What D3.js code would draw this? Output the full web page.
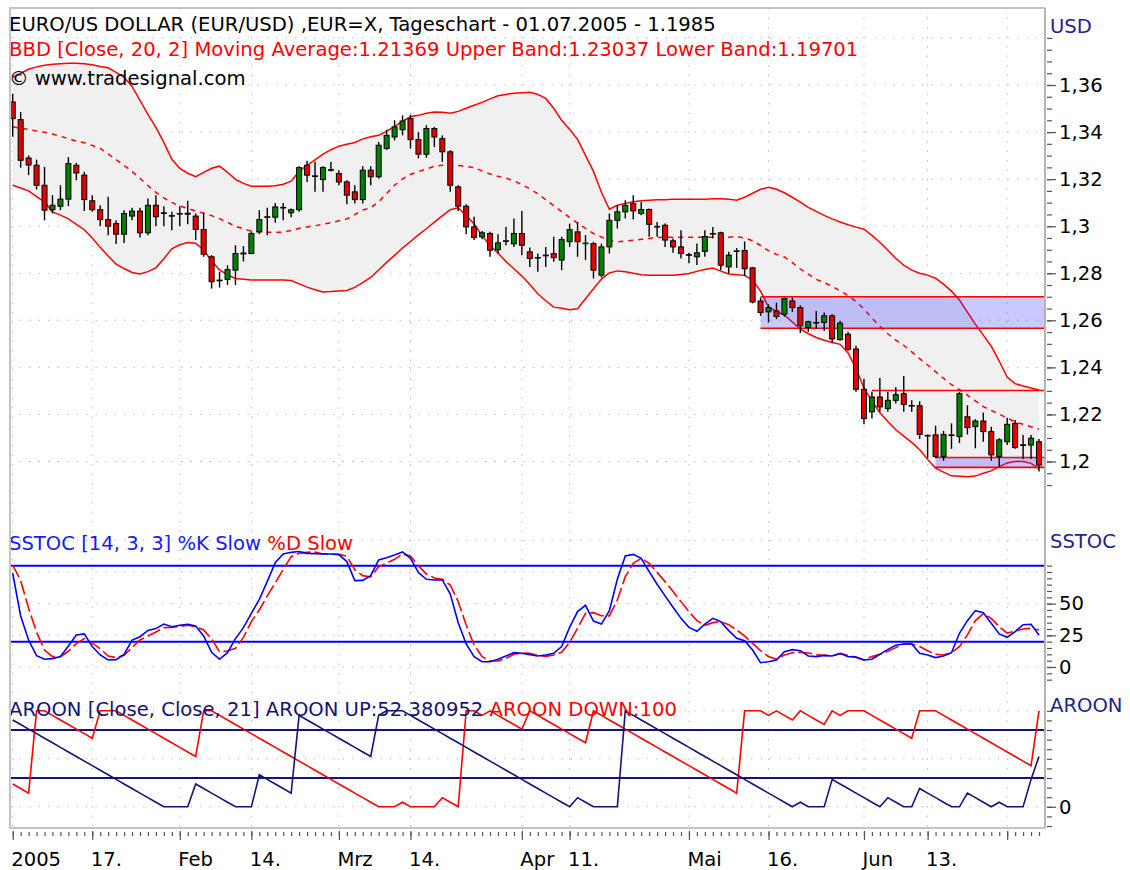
<!DOCTYPE html>
<html lang="de">
  <head>
    <meta charset="utf-8">
    <title>EURO/US DOLLAR Tageschart</title>
    <script src="https://d3js.org/d3.v7.min.js"></script>
    <style>
      body {
        margin: 0;
        background: #fff;
      }

      text {
        font-family: "DejaVu Sans", Verdana, sans-serif;
        font-size: 19.6px;
      }
    </style>
  </head>
  <body>
    <script>
      // one value per trading day, 03.01.2005 - 01.07.2005
      const opens = [
        1.3528, 1.3453, 1.3290, 1.3259, 1.3174, 1.3070, 1.3085, 1.3115, 1.3259, 1.3217,
        1.3108, 1.3070, 1.3028, 1.3011, 1.2966, 1.3043, 1.3064, 1.2972, 1.3089, 1.3057,
        1.3045, 1.3052, 1.3055, 1.3043, 1.2986, 1.2870, 1.2768, 1.2774, 1.2813, 1.2882,
        1.2884, 1.2976, 1.3038, 1.3038, 1.3080, 1.3057, 1.3070, 1.3259, 1.3214, 1.3198,
        1.3240, 1.3224, 1.3188, 1.3146, 1.3113, 1.3238, 1.3210, 1.3330, 1.3379, 1.3410,
        1.3457, 1.3368, 1.3306, 1.3415, 1.3372, 1.3316, 1.3167, 1.3085, 1.2997, 1.2955,
        1.2969, 1.2900, 1.2936, 1.2925, 1.2969, 1.2891, 1.2866, 1.2874, 1.2884, 1.2856,
        1.2934, 1.2976, 1.2928, 1.2926, 1.2792, 1.2912, 1.3025, 1.3061, 1.3096, 1.3054,
        1.3071, 1.2999, 1.3004, 1.2938, 1.2912, 1.2879, 1.2870, 1.2893, 1.2968, 1.2972,
        1.2827, 1.2895, 1.2897, 1.2823, 1.2682, 1.2636, 1.2640, 1.2626, 1.2682, 1.2654,
        1.2569, 1.2590, 1.2591, 1.2619, 1.2518, 1.2541, 1.2478, 1.2307, 1.2211, 1.2274,
        1.2225, 1.2260, 1.2288, 1.2238, 1.2237, 1.2111, 1.2113, 1.2021, 1.2112, 1.2106,
        1.2190, 1.2148, 1.2172, 1.2127, 1.2021, 1.2084, 1.2162, 1.2071, 1.2070, 1.2084
      ];
      const highs = [
        1.3563, 1.3485, 1.3301, 1.3283, 1.3252, 1.3132, 1.3174, 1.3294, 1.3269, 1.3231,
        1.3132, 1.3089, 1.3125, 1.3025, 1.3068, 1.3078, 1.3078, 1.3118, 1.3132, 1.3085,
        1.3061, 1.3085, 1.3108, 1.3054, 1.3057, 1.2877, 1.2806, 1.2834, 1.2919, 1.2915,
        1.2978, 1.3068, 1.3078, 1.3099, 1.3099, 1.3075, 1.3255, 1.3278, 1.3273, 1.3255,
        1.3273, 1.3238, 1.3195, 1.3174, 1.3255, 1.3255, 1.3358, 1.3410, 1.3450, 1.3471,
        1.3474, 1.3400, 1.3429, 1.3422, 1.3386, 1.3323, 1.3174, 1.3093, 1.3040, 1.2980,
        1.2976, 1.2966, 1.2997, 1.3033, 1.3065, 1.2909, 1.2884, 1.2912, 1.2955, 1.2955,
        1.3011, 1.3018, 1.2962, 1.2934, 1.2926, 1.3054, 1.3089, 1.3110, 1.3132, 1.3103,
        1.3075, 1.3018, 1.3011, 1.2948, 1.2983, 1.2887, 1.2926, 1.2983, 1.2997, 1.2976,
        1.2891, 1.2907, 1.2935, 1.2827, 1.2696, 1.2668, 1.2675, 1.2696, 1.2696, 1.2664,
        1.2598, 1.2640, 1.2633, 1.2626, 1.2598, 1.2551, 1.2492, 1.2352, 1.2296, 1.2355,
        1.2296, 1.2316, 1.2363, 1.2260, 1.2256, 1.2115, 1.2152, 1.2130, 1.2162, 1.2296,
        1.2239, 1.2180, 1.2208, 1.2148, 1.2099, 1.2186, 1.2176, 1.2113, 1.2113, 1.2096
      ];
      const lows = [
        1.3380, 1.3249, 1.3217, 1.3156, 1.3025, 1.3054, 1.3068, 1.3085, 1.3195, 1.3065,
        1.3061, 1.3000, 1.2962, 1.2924, 1.2929, 1.3025, 1.2952, 1.2962, 1.3000, 1.3000,
        1.2983, 1.3000, 1.3008, 1.2941, 1.2870, 1.2735, 1.2739, 1.2750, 1.2750, 1.2850,
        1.2881, 1.2966, 1.2962, 1.3015, 1.3025, 1.3038, 1.3061, 1.3188, 1.3146, 1.3146,
        1.3232, 1.3174, 1.3093, 1.3096, 1.3096, 1.3174, 1.3202, 1.3323, 1.3365, 1.3386,
        1.3330, 1.3288, 1.3291, 1.3337, 1.3273, 1.3146, 1.3065, 1.2966, 1.2941, 1.2944,
        1.2870, 1.2884, 1.2919, 1.2912, 1.2877, 1.2827, 1.2806, 1.2827, 1.2849, 1.2813,
        1.2912, 1.2870, 1.2856, 1.2778, 1.2782, 1.2884, 1.2990, 1.3033, 1.3028, 1.3047,
        1.2955, 1.2955, 1.2912, 1.2887, 1.2863, 1.2842, 1.2835, 1.2870, 1.2948, 1.2813,
        1.2799, 1.2823, 1.2788, 1.2672, 1.2619, 1.2591, 1.2605, 1.2616, 1.2636, 1.2546,
        1.2551, 1.2563, 1.2555, 1.2506, 1.2513, 1.2471, 1.2296, 1.2158, 1.2183, 1.2211,
        1.2211, 1.2246, 1.2211, 1.2211, 1.2096, 1.2014, 1.2014, 1.2003, 1.2054, 1.2078,
        1.2115, 1.2056, 1.2084, 1.2003, 1.1979, 1.2070, 1.2054, 1.2011, 1.2011, 1.1958
      ];
      const closes = [
        1.3457, 1.3280, 1.3260, 1.3174, 1.3068, 1.3089, 1.3115, 1.3266, 1.3226, 1.3113,
        1.3070, 1.3028, 1.3000, 1.2966, 1.3054, 1.3064, 1.2972, 1.3089, 1.3040, 1.3054,
        1.3043, 1.3054, 1.3051, 1.2986, 1.2881, 1.2764, 1.2771, 1.2816, 1.2884, 1.2886,
        1.2969, 1.3028, 1.3040, 1.3082, 1.3079, 1.3070, 1.3249, 1.3217, 1.3212, 1.3249,
        1.3238, 1.3188, 1.3132, 1.3113, 1.3238, 1.3210, 1.3344, 1.3386, 1.3422, 1.3447,
        1.3368, 1.3306, 1.3415, 1.3379, 1.3316, 1.3174, 1.3085, 1.2997, 1.2952, 1.2972,
        1.2898, 1.2929, 1.2938, 1.2969, 1.2919, 1.2863, 1.2867, 1.2877, 1.2866, 1.2943,
        1.2986, 1.2934, 1.2926, 1.2813, 1.2912, 1.3025, 1.3061, 1.3089, 1.3065, 1.3071,
        1.3008, 1.2997, 1.2941, 1.2912, 1.2884, 1.2877, 1.2887, 1.2956, 1.2969, 1.2834,
        1.2877, 1.2893, 1.2819, 1.2678, 1.2633, 1.2654, 1.2616, 1.2692, 1.2654, 1.2577,
        1.2594, 1.2591, 1.2619, 1.2521, 1.2588, 1.2476, 1.2307, 1.2183, 1.2274, 1.2232,
        1.2260, 1.2284, 1.2242, 1.2237, 1.2115, 1.2110, 1.2021, 1.2115, 1.2113, 1.2288,
        1.2144, 1.2172, 1.2127, 1.2028, 1.2092, 1.2158, 1.2059, 1.2070, 1.2099, 1.1985
      ];

      // Bollinger bands [Close, 20, 2]
      const bbUpper = [
        1.3633, 1.3650, 1.3667, 1.3677, 1.3684, 1.3688, 1.3690, 1.3692, 1.3692, 1.3690,
        1.3686, 1.3679, 1.3673, 1.3654, 1.3633, 1.3594, 1.3535, 1.3475, 1.3420, 1.3356,
        1.3284, 1.3246, 1.3225, 1.3210, 1.3229, 1.3246, 1.3255, 1.3229, 1.3199, 1.3182,
        1.3170, 1.3170, 1.3170, 1.3172, 1.3178, 1.3191, 1.3233, 1.3259, 1.3282, 1.3306,
        1.3325, 1.3340, 1.3348, 1.3356, 1.3371, 1.3380, 1.3386, 1.3404, 1.3423, 1.3446,
        1.3465, 1.3471, 1.3480, 1.3485, 1.3484, 1.3480, 1.3488, 1.3501, 1.3514, 1.3526,
        1.3541, 1.3554, 1.3560, 1.3565, 1.3567, 1.3569, 1.3560, 1.3543, 1.3501, 1.3450,
        1.3412, 1.3369, 1.3301, 1.3233, 1.3144, 1.3072, 1.3089, 1.3097, 1.3104, 1.3108,
        1.3110, 1.3112, 1.3112, 1.3115, 1.3115, 1.3115, 1.3115, 1.3115, 1.3117, 1.3117,
        1.3115, 1.3110, 1.3123, 1.3140, 1.3157, 1.3165, 1.3157, 1.3142, 1.3123, 1.3102,
        1.3080, 1.3063, 1.3046, 1.3031, 1.3018, 1.3006, 1.2996, 1.2987, 1.2961, 1.2932,
        1.2898, 1.2864, 1.2834, 1.2813, 1.2800, 1.2792, 1.2779, 1.2754, 1.2724, 1.2686,
        1.2635, 1.2584, 1.2537, 1.2490, 1.2427, 1.2359, 1.2331, 1.2321, 1.2312, 1.2304
      ];
      const bbMiddle = [
        1.3423, 1.3416, 1.3411, 1.3405, 1.3399, 1.3392, 1.3382, 1.3372, 1.3362, 1.3355,
        1.3343, 1.3331, 1.3307, 1.3283, 1.3258, 1.3233, 1.3203, 1.3173, 1.3144, 1.3120,
        1.3101, 1.3086, 1.3075, 1.3065, 1.3055, 1.3045, 1.3032, 1.3016, 1.3000, 1.2989,
        1.2979, 1.2976, 1.2974, 1.2974, 1.2974, 1.2982, 1.2991, 1.2997, 1.3002, 1.3008,
        1.3015, 1.3023, 1.3031, 1.3049, 1.3069, 1.3078, 1.3104, 1.3139, 1.3174, 1.3201,
        1.3220, 1.3232, 1.3243, 1.3255, 1.3259, 1.3259, 1.3258, 1.3254, 1.3249, 1.3235,
        1.3222, 1.3212, 1.3204, 1.3193, 1.3176, 1.3159, 1.3138, 1.3112, 1.3087, 1.3062,
        1.3036, 1.3013, 1.2991, 1.2969, 1.2954, 1.2939, 1.2934, 1.2937, 1.2940, 1.2944,
        1.2948, 1.2952, 1.2953, 1.2953, 1.2953, 1.2953, 1.2953, 1.2953, 1.2953, 1.2953,
        1.2953, 1.2956, 1.2950, 1.2938, 1.2918, 1.2896, 1.2880, 1.2869, 1.2845, 1.2818,
        1.2796, 1.2774, 1.2760, 1.2745, 1.2725, 1.2705, 1.2680, 1.2648, 1.2609, 1.2575,
        1.2543, 1.2516, 1.2494, 1.2466, 1.2437, 1.2410, 1.2382, 1.2353, 1.2327, 1.2305,
        1.2282, 1.2258, 1.2233, 1.2217, 1.2201, 1.2185, 1.2168, 1.2158, 1.2148, 1.2137
      ];
      const bbLower = [
        1.3174, 1.3162, 1.3150, 1.3126, 1.3103, 1.3061, 1.3047, 1.3031, 1.3008, 1.2985,
        1.2950, 1.2910, 1.2873, 1.2839, 1.2820, 1.2803, 1.2797, 1.2807, 1.2823, 1.2862,
        1.2904, 1.2921, 1.2931, 1.2928, 1.2899, 1.2852, 1.2814, 1.2793, 1.2778, 1.2775,
        1.2771, 1.2771, 1.2771, 1.2771, 1.2771, 1.2769, 1.2755, 1.2741, 1.2730, 1.2720,
        1.2722, 1.2725, 1.2727, 1.2740, 1.2760, 1.2782, 1.2814, 1.2846, 1.2876, 1.2907,
        1.2935, 1.2963, 1.2989, 1.3017, 1.3044, 1.3070, 1.3078, 1.3044, 1.3009, 1.2960,
        1.2917, 1.2886, 1.2850, 1.2819, 1.2788, 1.2752, 1.2713, 1.2683, 1.2656, 1.2651,
        1.2645, 1.2649, 1.2692, 1.2734, 1.2775, 1.2801, 1.2810, 1.2806, 1.2800, 1.2794,
        1.2792, 1.2792, 1.2792, 1.2792, 1.2795, 1.2799, 1.2808, 1.2816, 1.2822, 1.2809,
        1.2797, 1.2794, 1.2791, 1.2771, 1.2724, 1.2656, 1.2638, 1.2622, 1.2593, 1.2562,
        1.2543, 1.2527, 1.2515, 1.2506, 1.2498, 1.2461, 1.2395, 1.2312, 1.2257, 1.2207,
        1.2170, 1.2135, 1.2108, 1.2081, 1.2050, 1.2009, 1.1972, 1.1955, 1.1939, 1.1937,
        1.1935, 1.1938, 1.1950, 1.1960, 1.1978, 1.1994, 1.2000, 1.2000, 1.1992, 1.1970
      ];

      // SSTOC [14, 3, 3]
      const stochK = [
        74, 40.3, 21.3, 8.9, 6.1, 6.6, 8.2, 16.6, 25.3, 26.1,
        16.1, 9.5, 5.5, 5.8, 10, 21.3, 23.9, 28.9, 30.3, 33.9,
        31.8, 32.9, 33.7, 32.4, 24.5, 11.6, 6.1, 11.3, 22.4, 31.1,
        42.4, 53.4, 67.6, 82.4, 89.2, 90.5, 91.1, 89.7, 89.5, 89.2,
        89.2, 88.7, 83.2, 68.2, 68.4, 72.1, 84.5, 86.3, 88.4, 90.8,
        85.8, 74.5, 69.2, 68.7, 68.7, 57.6, 35, 18.2, 8.2, 4.2,
        4.2, 6.1, 8.7, 11.3, 10.8, 9.7, 8.7, 9.5, 10.8, 16.1,
        31.3, 43.7, 48.7, 36.3, 33.9, 44.5, 69.2, 87.6, 88.9, 85.8,
        75.3, 65.3, 56.1, 47.1, 38.4, 31.3, 28.2, 33.9, 38.4, 35.8,
        28.7, 22.6, 20.8, 13.4, 3.4, 4.2, 5.5, 12.1, 13.7, 12.9,
        8.7, 8.2, 9.2, 8.7, 10.8, 8.2, 7.9, 5.5, 6.1, 10,
        13.9, 17.1, 18.2, 18.2, 10.8, 9.5, 7.4, 8.7, 11.3, 26.6,
        36.6, 44.5, 42.9, 34.5, 26.1, 23.4, 27.9, 33.4, 33.7, 25.3
      ];
      const stochD = [
        80.5, 68.2, 46.3, 27.4, 13.4, 8.2, 8.2, 12.4, 18.4, 22.4,
        18.9, 14.5, 8.7, 7.4, 9.2, 15.3, 21.3, 24.5, 27.6, 31.1,
        31.3, 32.1, 32.9, 31.8, 29.2, 22.1, 12.1, 12.6, 14.7, 23.4,
        35.8, 45, 56.1, 66.3, 77.1, 87.1, 89.7, 90.5, 90.8, 89.2,
        89.2, 88.9, 87.4, 76.8, 72.1, 71.1, 79.2, 82.1, 85, 89.2,
        87.6, 80, 73.4, 70.3, 69.2, 64.7, 51.6, 33.2, 17.4, 8.2,
        4.7, 4.7, 6.8, 10, 11.1, 10.8, 9.2, 8.4, 9.5, 11.6,
        19.5, 30.5, 42.4, 42.9, 40.5, 40.3, 52.9, 71.3, 81.8, 85.8,
        81.8, 74.7, 67.4, 59.5, 51.6, 43.7, 36.6, 32.9, 35, 35.8,
        33.4, 29.2, 24.5, 18.7, 12.9, 8.2, 6.1, 9.5, 11.3, 11.6,
        11.1, 9.7, 9.2, 8.7, 10.5, 9.2, 7.6, 5.5, 8.2, 10,
        12.4, 15.3, 18.2, 18.2, 16.1, 12.9, 10, 9.5, 11.3, 16.1,
        25.3, 36.6, 42.1, 38.4, 31.8, 26.8, 28.2, 30, 30.5, 29.2
      ];
      const stochLevels = [80, 20];

      // AROON [Close, Close, 21]
      const aroonUp = [
        90.48, 85.71, 80.95, 76.19, 71.43, 66.67, 61.90, 57.14, 52.38, 47.62,
        42.86, 38.10, 33.33, 28.57, 23.81, 19.05, 14.29, 9.52, 4.76, 0,
        0, 0, 0, 23.81, 19.05, 14.29, 9.52, 4.76, 0, 0,
        0, 33.33, 28.57, 23.81, 19.05, 14.29, 95.24, 90.48, 85.71, 80.95,
        76.19, 71.43, 66.67, 61.90, 57.14, 52.38, 95.24, 100, 100, 100,
        95.24, 90.48, 85.71, 80.95, 76.19, 71.43, 66.67, 61.90, 57.14, 52.38,
        47.62, 42.86, 38.10, 33.33, 28.57, 23.81, 19.05, 14.29, 9.52, 4.76,
        0, 9.52, 4.76, 0, 0, 0, 0, 100, 95.24, 90.48,
        85.71, 80.95, 76.19, 71.43, 66.67, 61.90, 57.14, 52.38, 47.62, 42.86,
        38.10, 33.33, 28.57, 23.81, 19.05, 14.29, 9.52, 4.76, 0, 4.76,
        0, 0, 0, 28.57, 23.81, 19.05, 14.29, 9.52, 4.76, 0,
        9.52, 4.76, 0, 0, 19.05, 14.29, 9.52, 4.76, 0, 0,
        14.29, 9.52, 4.76, 0, 4.76, 0, 0, 0, 28.57, 52.38
      ];
      const aroonDown = [
        23.81, 19.05, 14.29, 100, 100, 95.24, 90.48, 85.71, 80.95, 76.19,
        71.43, 100, 100, 100, 95.24, 90.48, 85.71, 80.95, 76.19, 71.43,
        66.67, 61.90, 57.14, 52.38, 100, 100, 95.24, 90.48, 85.71, 80.95,
        76.19, 71.43, 66.67, 61.90, 57.14, 52.38, 47.62, 42.86, 38.10, 33.33,
        28.57, 23.81, 19.05, 14.29, 9.52, 4.76, 0, 0, 0, 4.76,
        0, 0, 0, 0, 9.52, 4.76, 0, 100, 100, 95.24,
        100, 95.24, 90.48, 85.71, 80.95, 100, 95.24, 90.48, 85.71, 80.95,
        76.19, 71.43, 66.67, 100, 95.24, 90.48, 85.71, 80.95, 76.19, 71.43,
        66.67, 61.90, 57.14, 52.38, 47.62, 42.86, 38.10, 33.33, 28.57, 23.81,
        19.05, 14.29, 100, 100, 100, 95.24, 100, 95.24, 90.48, 100,
        95.24, 90.48, 85.71, 100, 95.24, 100, 100, 100, 95.24, 90.48,
        85.71, 80.95, 76.19, 71.43, 100, 100, 100, 95.24, 90.48, 85.71,
        80.95, 76.19, 71.43, 66.67, 61.90, 57.14, 52.38, 47.62, 42.86, 100
      ];
      const aroonLevels = [80, 30];

      // drawn zones and support / resistance line
      const zoneStart = ['2005-05-13', '2005-06-14'];
      const zoneTop = [1.2700, 1.2017];
      const zoneBottom = [1.2566, 1.1975];
      const lineStart = ['2005-06-02'];
      const lineLevel = [1.2302];

      const priceTicks = [1.2, 1.22, 1.24, 1.26, 1.28, 1.3, 1.32, 1.34, 1.36];
      const stochTicks = [0, 25, 50];
      const aroonTicks = [0];
      const dateTicks = ['2005-01-03', '2005-01-17', '2005-02-01', '2005-02-14', '2005-03-01', '2005-03-14',
                         '2005-04-01', '2005-04-11', '2005-05-02', '2005-05-16', '2005-06-01', '2005-06-13', '2005-06-27'];
      const dateTickLabels = ['2005', '17.', 'Feb', '14.', 'Mrz', '14.', 'Apr', '11.', 'Mai', '16.', 'Jun', '13.', ''];

      const title = 'EURO/US DOLLAR (EUR/USD) ,EUR=X, Tageschart - 01.07.2005 - 1.1985';
      const bbTitle = 'BBD [Close, 20, 2] Moving Average:1.21369 Upper Band:1.23037 Lower Band:1.19701';
      const source = '\u00a9 www.tradesignal.com';

      const w = 1130;
      const h = 870;
      const plotLeft = 10;
      const plotRight = 1045;
      const plotTop = 8;
      const plotBottom = 828;

      const fmt = d3.timeFormat('%Y-%m-%d');
      const days = d3.timeDay.range(new Date(2005, 0, 3), new Date(2005, 6, 2))
                     .filter(d => d.getDay() !== 0 && d.getDay() !== 6)
                     .map(fmt);

      const candles = days.map((d, i) => ({date: d, o: opens[i], h: highs[i], l: lows[i], c: closes[i]}));

      const xScale = d3.scalePoint().domain(days).range([12.7, 1039]);
      const yPrice = d3.scaleLinear().domain([1.2, 1.36]).range([461.5, 85]);
      const yStoch = d3.scaleLinear().domain([0, 100]).range([667, 540.3]);
      const yAroon = d3.scaleLinear().domain([0, 100]).range([806.8, 710.8]);

      const de = d3.formatLocale({decimal: ',', thousands: '.', grouping: [3], currency: ['', ' €']});

      const svg = d3.select('body')
                    .append('svg')
                    .attr('width', w)
                    .attr('height', h);

      svg.append('defs')
         .append('clipPath')
         .attr('id', 'plot')
         .append('rect')
          .attr('x', plotLeft)
          .attr('y', plotTop)
          .attr('width', plotRight - plotLeft)
          .attr('height', plotBottom - plotTop);

      const grid = svg.append('g')
                      .attr('stroke', '#bdbdbd')
                      .attr('stroke-width', 1)
                      .attr('stroke-dasharray', '1.5,8');

      grid.selectAll('.vgrid')
          .data(dateTicks)
          .enter()
          .append('line')
           .attr('x1', d => xScale(d))
           .attr('x2', d => xScale(d))
           .attr('y1', plotTop)
           .attr('y2', plotBottom);

      const hGrid = [1.2, 1.22, 1.24, 1.26, 1.28, 1.3, 1.32, 1.34, 1.36, 1.38].map(v => yPrice(v))
                      .concat([0, 25, 50, 75, 100].map(v => yStoch(v)))
                      .concat([0, 50, 100].map(v => yAroon(v)));

      grid.selectAll('.hgrid')
          .data(hGrid)
          .enter()
          .append('line')
           .attr('x1', plotLeft)
           .attr('x2', plotRight)
           .attr('y1', d => d)
           .attr('y2', d => d);

      const plot = svg.append('g').attr('clip-path', 'url(#plot)');

      // band fill
      plot.append('path')
          .datum(days)
          .attr('fill', '#f0f0f0')
          .attr('d', d3.area()
                       .x(d => xScale(d))
                       .y0((d, i) => yPrice(bbLower[i]))
                       .y1((d, i) => yPrice(bbUpper[i])));

      // titles
      svg.append('text').attr('x', 9).attr('y', 31).attr('fill', '#000').text(title);
      svg.append('text').attr('x', 9).attr('y', 56).attr('fill', '#ff0000').text(bbTitle);
      svg.append('text').attr('x', 9).attr('y', 85).attr('fill', '#000').text(source);

      const stTitle = svg.append('text').attr('x', 9).attr('y', 550);
      stTitle.append('tspan').attr('fill', '#1818ff').text('SSTOC [14, 3, 3] %K Slow ');
      stTitle.append('tspan').attr('fill', '#ff0000').text('%D Slow');

      const arTitle = svg.append('text').attr('x', 9).attr('y', 716);
      arTitle.append('tspan').attr('fill', '#141478').text('AROON [Close, Close, 21] AROON UP:52.380952 ');
      arTitle.append('tspan').attr('fill', '#ff0000').text('AROON DOWN:100');

      // bands
      const bandLine = arr => d3.line()
                                .x(d => xScale(d))
                                .y((d, i) => yPrice(arr[i]));

      plot.append('path').datum(days)
          .attr('fill', 'none').attr('stroke', '#ff0000').attr('stroke-width', 1.5)
          .attr('d', bandLine(bbUpper));
      plot.append('path').datum(days)
          .attr('fill', 'none').attr('stroke', '#ff0000').attr('stroke-width', 1.5)
          .attr('d', bandLine(bbLower));
      plot.append('path').datum(days)
          .attr('fill', 'none').attr('stroke', '#ff0000').attr('stroke-width', 1.5)
          .attr('stroke-dasharray', '5,5')
          .attr('d', bandLine(bbMiddle));

      // zones
      const zones = zoneStart.map((d, i) => ({start: d, top: zoneTop[i], bottom: zoneBottom[i]}));

      plot.selectAll('.zone')
          .data(zones)
          .enter()
          .append('rect')
           .attr('x', d => xScale(d.start))
           .attr('y', d => yPrice(d.top))
           .attr('width', d => plotRight - xScale(d.start))
           .attr('height', d => yPrice(d.bottom) - yPrice(d.top))
           .attr('fill', 'rgba(40, 40, 255, 0.25)');

      const levels = zones.flatMap(z => [{start: z.start, v: z.top}, {start: z.start, v: z.bottom}])
                          .concat(lineStart.map((d, i) => ({start: d, v: lineLevel[i]})));

      plot.selectAll('.level')
          .data(levels)
          .enter()
          .append('line')
           .attr('x1', d => xScale(d.start))
           .attr('x2', plotRight)
           .attr('y1', d => yPrice(d.v))
           .attr('y2', d => yPrice(d.v))
           .attr('stroke', '#ff0000')
           .attr('stroke-width', 1.6);

      // candles
      const candle = plot.selectAll('.candle')
                         .data(candles)
                         .enter()
                         .append('g');

      candle.append('line')
             .attr('x1', d => xScale(d.date))
             .attr('x2', d => xScale(d.date))
             .attr('y1', d => yPrice(d.h))
             .attr('y2', d => yPrice(d.l))
             .attr('stroke', '#000')
             .attr('stroke-width', 1.4);

      candle.append('rect')
             .attr('x', d => xScale(d.date) - 2.5)
             .attr('y', d => yPrice(Math.max(d.o, d.c)))
             .attr('width', 5)
             .attr('height', d => Math.max(0.6, Math.abs(yPrice(d.o) - yPrice(d.c))))
             .attr('fill', d => d.c >= d.o ? '#008000' : '#e80000')
             .attr('stroke', '#000')
             .attr('stroke-width', 1);

      // SSTOC
      plot.selectAll('.stlevel')
          .data(stochLevels)
          .enter()
          .append('line')
           .attr('x1', plotLeft).attr('x2', plotRight)
           .attr('y1', d => yStoch(d)).attr('y2', d => yStoch(d))
           .attr('stroke', '#0000ff').attr('stroke-width', 2);

      plot.append('path').datum(days)
          .attr('fill', 'none').attr('stroke', '#ff0000').attr('stroke-width', 1.6)
          .attr('stroke-dasharray', '14,4')
          .attr('d', d3.line().x(d => xScale(d)).y((d, i) => yStoch(stochD[i])));
      plot.append('path').datum(days)
          .attr('fill', 'none').attr('stroke', '#0000ff').attr('stroke-width', 1.6)
          .attr('d', d3.line().x(d => xScale(d)).y((d, i) => yStoch(stochK[i])));

      // AROON
      plot.selectAll('.arlevel')
          .data(aroonLevels)
          .enter()
          .append('line')
           .attr('x1', plotLeft).attr('x2', plotRight)
           .attr('y1', d => yAroon(d)).attr('y2', d => yAroon(d))
           .attr('stroke', '#141478').attr('stroke-width', 2);

      plot.append('path').datum(days)
          .attr('fill', 'none').attr('stroke', '#ff0000').attr('stroke-width', 1.6)
          .attr('d', d3.line().x(d => xScale(d)).y((d, i) => yAroon(aroonDown[i])));
      plot.append('path').datum(days)
          .attr('fill', 'none').attr('stroke', '#141478').attr('stroke-width', 1.6)
          .attr('d', d3.line().x(d => xScale(d)).y((d, i) => yAroon(aroonUp[i])));

      // frame
      svg.append('path')
         .attr('d', `M${plotRight},${plotTop} H${plotLeft} V${plotBottom} H${plotRight}`)
         .attr('fill', 'none')
         .attr('stroke', '#c4c4c4')
         .attr('stroke-width', 2);
      svg.append('line')
         .attr('x1', plotRight).attr('x2', plotRight)
         .attr('y1', plotTop).attr('y2', plotBottom)
         .attr('stroke', '#b4b4b4')
         .attr('stroke-width', 2);

      // right axes
      const styleAxis = g => {
        g.select('.domain').remove();
        g.selectAll('line').attr('stroke', '#555').attr('stroke-width', 1.2);
        g.selectAll('text').attr('fill', '#000');
      };

      svg.append('g')
         .attr('transform', `translate(${plotRight + 2}, 0)`)
         .call(d3.axisRight(yPrice).tickValues(d3.range(238, 277).map(k => k * 0.005)).tickSize(5).tickFormat(''))
         .call(styleAxis);
      svg.append('g')
         .attr('transform', `translate(${plotRight + 2}, 0)`)
         .call(d3.axisRight(yPrice).tickValues(priceTicks).tickSize(9).tickPadding(3).tickFormat(de.format('.2~f')))
         .call(styleAxis);

      svg.append('g')
         .attr('transform', `translate(${plotRight + 2}, 0)`)
         .call(d3.axisRight(yStoch).tickValues(d3.range(-10, 85, 5)).tickSize(5).tickFormat(''))
         .call(styleAxis);
      svg.append('g')
         .attr('transform', `translate(${plotRight + 2}, 0)`)
         .call(d3.axisRight(yStoch).tickValues(stochTicks).tickSize(9).tickPadding(3))
         .call(styleAxis);

      svg.append('g')
         .attr('transform', `translate(${plotRight + 2}, 0)`)
         .call(d3.axisRight(yAroon).tickValues(d3.range(-20, 101, 10)).tickSize(5).tickFormat(''))
         .call(styleAxis);
      svg.append('g')
         .attr('transform', `translate(${plotRight + 2}, 0)`)
         .call(d3.axisRight(yAroon).tickValues(aroonTicks).tickSize(9).tickPadding(3))
         .call(styleAxis);

      svg.append('text').attr('x', 1050).attr('y', 33).attr('fill', '#23238c').text('USD');
      svg.append('text').attr('x', 1050).attr('y', 548).attr('fill', '#23238c').text('SSTOC');
      svg.append('text').attr('x', 1050).attr('y', 712).attr('fill', '#23238c').text('AROON');

      // date axis
      svg.append('g')
         .attr('transform', `translate(0, ${plotBottom + 4})`)
         .call(d3.axisBottom(xScale).tickValues(days).tickSize(4).tickFormat(''))
         .call(styleAxis);
      svg.append('g')
         .attr('transform', `translate(0, ${plotBottom + 3})`)
         .call(d3.axisBottom(xScale).tickValues(dateTicks).tickSize(9)
                 .tickFormat((d, i) => dateTickLabels[i]))
         .call(styleAxis)
         .selectAll('text')
          .attr('text-anchor', 'start')
          .attr('x', -2)
          .attr('y', 35)
          .attr('dy', null);
    </script>
  </body>
</html>
